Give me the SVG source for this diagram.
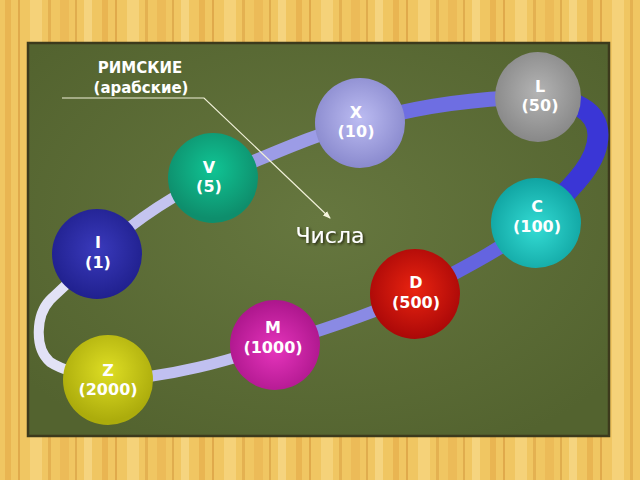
<svg xmlns="http://www.w3.org/2000/svg" width="640" height="480" viewBox="0 0 640 480">
<defs>
  <pattern id="wood" x="0" y="0" width="97" height="480" patternUnits="userSpaceOnUse">
    <rect width="97" height="480" fill="#f0c662"/>
    <rect x="5" width="6" height="480" fill="#e4aa48" opacity="0.6"/>
    <rect x="18" width="2" height="480" fill="#d08e34" opacity="0.5"/>
    <rect x="30" width="12" height="480" fill="#f8da88" opacity="0.6"/>
    <rect x="48" width="3" height="480" fill="#d89c40" opacity="0.5"/>
    <rect x="60" width="9" height="480" fill="#eab452" opacity="0.6"/>
    <rect x="75" width="2" height="480" fill="#c88830" opacity="0.4"/>
    <rect x="84" width="8" height="480" fill="#f8de92" opacity="0.6"/>
  </pattern>
  <radialGradient id="board" cx="50%" cy="45%" r="65%">
    <stop offset="0" stop-color="#66773f"/>
    <stop offset="1" stop-color="#53632f"/>
  </radialGradient>
  <radialGradient id="gL" cx="50%" cy="45%" r="55%"><stop offset="0" stop-color="#b4b4b4"/><stop offset="1" stop-color="#888888"/></radialGradient>
  <radialGradient id="gX" cx="50%" cy="45%" r="55%"><stop offset="0" stop-color="#bcbcf2"/><stop offset="1" stop-color="#8a8ace"/></radialGradient>
  <radialGradient id="gV" cx="50%" cy="40%" r="55%"><stop offset="0" stop-color="#10c494"/><stop offset="1" stop-color="#0e8e6c"/></radialGradient>
  <radialGradient id="gI" cx="50%" cy="45%" r="55%"><stop offset="0" stop-color="#3a3abc"/><stop offset="1" stop-color="#20208e"/></radialGradient>
  <radialGradient id="gC" cx="50%" cy="55%" r="55%"><stop offset="0" stop-color="#34dcd4"/><stop offset="1" stop-color="#10a4a2"/></radialGradient>
  <radialGradient id="gD" cx="50%" cy="45%" r="55%"><stop offset="0" stop-color="#ea2410"/><stop offset="1" stop-color="#aa0808"/></radialGradient>
  <radialGradient id="gM" cx="50%" cy="55%" r="55%"><stop offset="0" stop-color="#e634bc"/><stop offset="1" stop-color="#ac168c"/></radialGradient>
  <radialGradient id="gZ" cx="50%" cy="40%" r="55%"><stop offset="0" stop-color="#dede24"/><stop offset="1" stop-color="#acac0c"/></radialGradient>
  <marker id="arr" markerWidth="8" markerHeight="8" refX="7" refY="4" orient="auto" markerUnits="userSpaceOnUse">
    <path d="M0,1 L8,4 L0,7 z" fill="#f4f4dc"/>
  </marker>
  <filter id="sh" x="-20%" y="-20%" width="140%" height="140%">
    <feDropShadow dx="1.5" dy="1.5" stdDeviation="0.8" flood-color="#1a1a10" flood-opacity="0.9"/>
  </filter>
  <style>
    .band { fill: none; stroke-linecap: butt; }
    .lbl { font-family: "DejaVu Sans", Verdana, sans-serif; font-weight: bold; font-size: 16px; fill: #ffffff; text-anchor: middle; }
    .title { font-family: "DejaVu Sans", "Comic Sans MS", sans-serif; font-weight: bold; font-size: 15px; fill: #ffffff; text-anchor: middle; }
  </style>
</defs>

<rect width="640" height="480" fill="url(#wood)"/>
<rect x="28" y="43" width="581" height="393" fill="url(#board)" stroke="#3c3a1c" stroke-width="2.5"/>

<g id="connectors">
  <path class="band" d="M108,380 C80,375 62,370 50,362 C34,348 36,315 50,300 C58,292 66,286 97,254" stroke="#e2e2f6" stroke-width="10"/>
  <path class="band" d="M97,254 C130,225 170,195 213,178" stroke="#c4c4f0" stroke-width="11"/>
  <path class="band" d="M213,178 C260,160 310,135 360,123" stroke="#9c9ce6" stroke-width="13"/>
  <path class="band" d="M360,123 C420,105 480,98 538,97" stroke="#6e6ee2" stroke-width="15"/>
  <path class="band" d="M538,97 C575,100 598,110 598,135 C598,160 580,180 536,223" stroke="#3a36d6" stroke-width="21"/>
  <path class="band" d="M536,223 C500,250 460,270 415,294" stroke="#6464e0" stroke-width="14"/>
  <path class="band" d="M415,294 C370,315 320,330 275,345" stroke="#8a8ae4" stroke-width="12"/>
  <path class="band" d="M275,345 C230,360 170,378 108,380" stroke="#c0c0f0" stroke-width="11"/>
</g>

<g id="annotation">
  <path d="M62,98 L204,98 L330,218" fill="none" stroke="#f0f0d8" stroke-width="1.2" marker-end="url(#arr)"/>
  <text class="title" x="140" y="73">РИМСКИЕ</text>
  <text class="title" x="141" y="93">(арабские)</text>
</g>

<g id="node-L"><ellipse cx="538" cy="97" rx="43" ry="45" fill="url(#gL)"/><text class="lbl" x="540" y="92">L</text><text class="lbl" x="540" y="111">(50)</text></g>
<g id="node-X"><ellipse cx="360" cy="123" rx="45" ry="45" fill="url(#gX)"/><text class="lbl" x="356" y="118">X</text><text class="lbl" x="356" y="137">(10)</text></g>
<g id="node-V"><ellipse cx="213" cy="178" rx="45" ry="45" fill="url(#gV)"/><text class="lbl" x="209" y="173">V</text><text class="lbl" x="209" y="192">(5)</text></g>
<g id="node-I"><ellipse cx="97" cy="254" rx="45" ry="45" fill="url(#gI)"/><text class="lbl" x="98" y="248">I</text><text class="lbl" x="98" y="268">(1)</text></g>
<g id="node-C"><ellipse cx="536" cy="223" rx="45" ry="45" fill="url(#gC)"/><text class="lbl" x="537" y="212">C</text><text class="lbl" x="537" y="232">(100)</text></g>
<g id="node-D"><ellipse cx="415" cy="294" rx="45" ry="45" fill="url(#gD)"/><text class="lbl" x="416" y="288">D</text><text class="lbl" x="416" y="308">(500)</text></g>
<g id="node-M"><ellipse cx="275" cy="345" rx="45" ry="45" fill="url(#gM)"/><text class="lbl" x="273" y="333">M</text><text class="lbl" x="273" y="353">(1000)</text></g>
<g id="node-Z"><ellipse cx="108" cy="380" rx="45" ry="45" fill="url(#gZ)"/><text class="lbl" x="108" y="376">Z</text><text class="lbl" x="108" y="395">(2000)</text></g>

<text x="330" y="243" font-family="DejaVu Sans, sans-serif" font-size="22" fill="#ffffff" text-anchor="middle" filter="url(#sh)">Числа</text>
</svg>
